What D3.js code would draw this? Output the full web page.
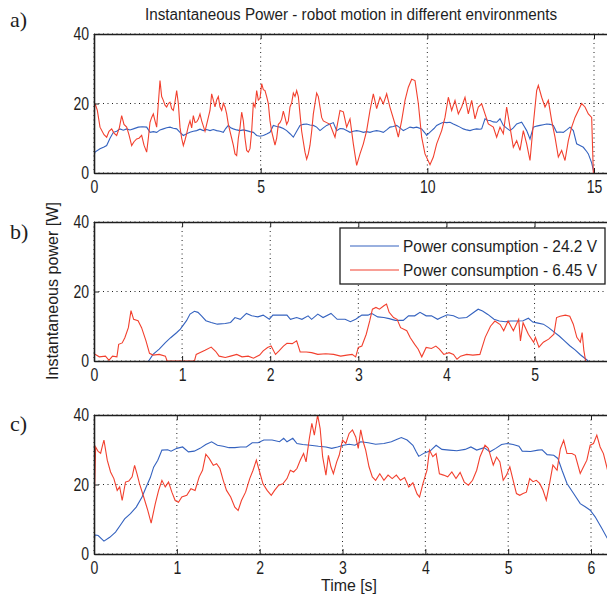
<!DOCTYPE html>
<html><head><meta charset="utf-8">
<script src="https://cdn.jsdelivr.net/npm/d3@7"></script>
<style>body{margin:0;background:#fff}svg{display:block}</style>
</head><body>
<svg id="chart" width="607" height="598"></svg>
<script>
// ---------- data ----------
const seriesNames = ["Power consumption - 24.2 V", "Power consumption - 6.45 V"];
const yTicks = [0, 20, 40];
const aTicks = [0, 5, 10, 15];
const bTicks = [0, 1, 2, 3, 4, 5];
const cTicks = [0, 1, 2, 3, 4, 5, 6];

const a24 = [[0,5],[0.03,6],[0.18,7],[0.3,7.5],[0.38,7.9],[0.48,10],[0.58,11.7],[0.68,12],[0.78,12.7],[0.88,12.3],[0.98,12.7],[1.08,12.4],[1.18,12.7],[1.33,13.2],[1.45,13.3],[1.58,13.2],[1.68,11.7],[1.78,11.9],[1.88,11.7],[1.98,12.4],[2.08,12.7],[2.18,13],[2.28,13.2],[2.38,12.9],[2.48,12.7],[2.58,11.7],[2.68,10.8],[2.78,11.3],[2.88,11.7],[2.98,12],[3.08,12.2],[3.18,12.6],[3.28,12.2],[3.38,12.5],[3.48,12.2],[3.58,12.5],[3.68,12.2],[3.78,12.0],[3.88,11.7],[3.95,12.8],[4.03,13.7],[4.1,13],[4.18,12.7],[4.28,12.4],[4.38,12.2],[4.48,12.4],[4.58,12.2],[4.68,11.9],[4.78,11.7],[4.88,10.8],[4.98,10.6],[5.08,10.8],[5.18,11.2],[5.28,11.7],[5.38,13.7],[5.48,13.4],[5.58,13.2],[5.68,12.8],[5.78,12.2],[5.88,11.3],[5.98,10.3],[6.08,12],[6.18,13.7],[6.28,14],[6.38,14.1],[6.48,13.8],[6.58,13.7],[6.68,13.2],[6.78,12.2],[6.88,13],[6.98,13.7],[7.08,14.1],[7.18,14.5],[7.28,12.2],[7.38,12.8],[7.48,12.7],[7.58,12.2],[7.68,11.7],[7.78,12],[7.88,12.2],[7.98,12],[8.08,11.7],[8.18,11.9],[8.28,11.7],[8.38,12],[8.48,12.2],[8.58,12],[8.68,11.7],[8.78,12.4],[8.88,13.2],[8.98,13.4],[9.08,13.7],[9.18,13],[9.28,12.2],[9.38,12.7],[9.48,13.2],[9.58,13],[9.68,13.2],[9.83,12.7],[9.93,11.5],[9.98,10.8],[10.05,11.5],[10.13,12.2],[10.2,12.8],[10.28,13.7],[10.38,14.2],[10.48,14.6],[10.58,14.5],[10.68,14.6],[10.78,14.1],[10.88,13.7],[10.98,13.2],[11.08,12.7],[11.18,12.4],[11.28,12.2],[11.38,12.5],[11.48,12.7],[11.58,12.6],[11.63,12.7],[11.73,15.6],[11.8,15.2],[11.88,15.1],[11.98,14.7],[12.08,14.6],[12.18,15.6],[12.28,13.7],[12.38,12.9],[12.48,12.2],[12.58,13],[12.68,14.1],[12.76,14.4],[12.83,14.6],[12.9,13.5],[12.98,12.2],[13.08,9.8],[13.18,13.2],[13.28,13.5],[13.38,13.7],[13.48,13.9],[13.58,14.1],[13.68,14],[13.78,13.7],[13.88,11.7],[13.98,11.8],[14.08,11.7],[14.18,12.4],[14.28,13.2],[14.38,12.2],[14.48,8.4],[14.58,7.9],[14.68,7.4],[14.78,6.2],[14.83,5.5],[14.93,2.9],[15.0,0]];

const a645 = [[0,13],[0.02,20],[0.05,19.5],[0.1,18],[0.18,13.2],[0.3,11],[0.38,10.3],[0.45,12],[0.53,12.7],[0.6,11.5],[0.68,10.8],[0.76,13],[0.83,16.5],[0.9,14],[0.98,13.2],[1.05,11],[1.13,7.9],[1.2,9],[1.28,9.8],[1.35,10],[1.43,10.8],[1.5,8],[1.58,6],[1.63,10],[1.68,14.6],[1.73,16],[1.78,17],[1.83,15],[1.88,13.2],[1.93,20],[1.98,26.6],[2.03,22],[2.08,20.9],[2.13,19.5],[2.18,19],[2.23,20],[2.28,20.4],[2.33,18.5],[2.38,18],[2.43,20.5],[2.48,23.7],[2.53,20],[2.58,13.2],[2.63,10],[2.68,7.9],[2.73,9.5],[2.78,11.3],[2.83,13.5],[2.88,15],[2.93,13],[2.98,16.5],[3.03,14.5],[3.08,14.7],[3.13,15.5],[3.18,17],[3.23,15],[3.33,12],[3.38,14],[3.43,16],[3.48,18],[3.53,22.8],[3.58,21],[3.63,19],[3.68,21],[3.73,22],[3.78,19],[3.83,18],[3.88,20],[3.93,19],[3.98,17],[4.03,14],[4.08,12],[4.13,10],[4.18,8],[4.23,5.5],[4.28,5],[4.33,10],[4.38,13],[4.43,17.5],[4.48,15],[4.53,10],[4.58,6.5],[4.63,6],[4.68,7],[4.73,12],[4.78,20],[4.83,19],[4.88,23.7],[4.93,21],[4.98,21.5],[5.03,25.7],[5.08,24],[5.13,23.7],[5.18,22],[5.23,20],[5.28,15],[5.33,12],[5.38,10],[5.43,8],[5.48,10],[5.53,14],[5.58,14.5],[5.63,15.5],[5.68,17.8],[5.73,16],[5.78,14],[5.83,15],[5.88,19],[5.93,20.2],[5.98,23],[6.03,22],[6.08,23.7],[6.13,22],[6.18,17],[6.23,12],[6.28,9],[6.33,6],[6.38,4],[6.43,5.5],[6.48,8],[6.53,12],[6.58,17],[6.63,20],[6.68,23],[6.73,22],[6.78,19],[6.83,16],[6.88,15],[6.98,14.5],[7.08,14],[7.23,10.3],[7.38,18],[7.48,17.6],[7.58,13.2],[7.68,15.6],[7.78,8.4],[7.88,2.2],[7.98,5.5],[8.08,8.4],[8.18,12.2],[8.28,18],[8.38,22.8],[8.48,18.5],[8.58,21.8],[8.68,19.9],[8.78,22.8],[8.88,18.9],[9.03,14.1],[9.13,10.3],[9.23,15.1],[9.33,20.9],[9.43,24.7],[9.53,27],[9.63,26.6],[9.73,20],[9.83,10.3],[9.93,5.5],[10.08,2.4],[10.18,4.6],[10.28,8.4],[10.43,12.2],[10.53,16],[10.63,21.8],[10.73,18],[10.83,20.9],[10.93,17],[11.03,19],[11.13,21.8],[11.23,17],[11.33,20.9],[11.43,15.6],[11.53,19],[11.63,19.9],[11.73,17],[11.83,14.1],[11.98,13.2],[12.08,10.3],[12.18,13.2],[12.28,11.3],[12.38,19],[12.48,13.2],[12.58,7.4],[12.68,9.3],[12.78,6.5],[12.88,12.2],[12.98,8.4],[13.08,3.6],[13.18,14.1],[13.28,23.7],[13.33,25.2],[13.43,21.8],[13.53,19],[13.63,20.9],[13.73,15.1],[13.83,10.3],[13.93,4.6],[14.03,6.5],[14.13,3.6],[14.23,9.3],[14.33,13.2],[14.43,16],[14.53,18],[14.63,20],[14.73,19],[14.83,17],[14.93,16],[14.98,0]];

const b24 = [[0.62,0],[0.67,1.9],[0.74,3.4],[0.81,5.3],[0.87,6.7],[0.94,8.2],[0.98,9.2],[1.05,11.6],[1.09,13.5],[1.14,14.3],[1.18,14],[1.22,13],[1.27,11.6],[1.33,11.1],[1.4,10.6],[1.49,10.8],[1.55,11.1],[1.6,12.5],[1.66,12],[1.73,13.7],[1.79,13],[1.86,12.7],[1.92,13.2],[1.99,12],[2.03,13.2],[2.1,13.2],[2.19,13.2],[2.23,12],[2.3,12.5],[2.36,12],[2.43,13],[2.47,12],[2.54,13.5],[2.6,12.5],[2.69,13.7],[2.76,12],[2.85,12],[2.91,11.3],[2.97,12],[3.04,13.2],[3.11,13.2],[3.15,13.7],[3.22,12.7],[3.29,12.5],[3.35,12.2],[3.42,11.7],[3.51,11.7],[3.57,13],[3.64,13],[3.7,14],[3.77,13],[3.83,13],[3.9,12],[3.94,12.5],[4.01,13.3],[4.08,13],[4.14,12.3],[4.23,12.5],[4.3,13.8],[4.36,14.9],[4.41,14.4],[4.47,13.4],[4.54,12],[4.6,11.5],[4.67,11.3],[4.73,11.5],[4.8,11.5],[4.87,11.6],[4.93,12.3],[4.98,11.2],[5.04,10.9],[5.1,10.6],[5.16,9.6],[5.22,8.4],[5.28,7.2],[5.34,5.8],[5.4,4.4],[5.46,3.2],[5.52,1.8],[5.57,0.8],[5.61,0]];

const b645 = [[0,2.1],[0.06,1.2],[0.13,1.4],[0.17,0.2],[0.21,1.4],[0.26,1.2],[0.28,4.8],[0.32,5.2],[0.35,6.7],[0.39,9.6],[0.42,14.5],[0.45,12],[0.5,11.6],[0.54,9.6],[0.59,5.8],[0.63,2.2],[0.67,1.7],[0.74,1.9],[0.81,1.4],[0.83,0],[1.14,0],[1.16,1.9],[1.2,2.4],[1.26,3.1],[1.33,4],[1.38,2.8],[1.42,1.4],[1.49,1],[1.55,1.4],[1.62,1.9],[1.68,1.2],[1.75,1.4],[1.81,0.8],[1.88,1.7],[1.92,2.9],[1.97,3.9],[2.01,4.3],[2.06,1.9],[2.1,2.9],[2.15,4.3],[2.19,5.1],[2.25,5],[2.3,5.8],[2.34,2.6],[2.41,2.6],[2.47,2.4],[2.54,1.9],[2.63,2.1],[2.72,1.9],[2.8,1.4],[2.87,1.7],[2.93,1.9],[2.97,1.2],[3.0,3.9],[3.04,4.3],[3.09,7.7],[3.13,11.6],[3.16,14.9],[3.2,15.4],[3.24,14.9],[3.29,15.9],[3.32,16.4],[3.35,14],[3.4,12.5],[3.44,12],[3.48,9.6],[3.55,8.7],[3.59,6.7],[3.64,4.8],[3.68,3.4],[3.72,1.2],[3.77,3.9],[3.83,3.6],[3.88,4.3],[3.92,3.4],[3.97,1.9],[4.03,2.4],[4.08,1.9],[4.12,0.5],[4.16,1.4],[4.23,1.9],[4.3,1.7],[4.38,1.9],[4.44,6.8],[4.5,10],[4.55,11.5],[4.61,10.5],[4.65,8.7],[4.7,11.5],[4.76,8.7],[4.82,12],[4.84,5.8],[4.87,11],[4.93,7.7],[4.99,5.4],[5.01,6.8],[5.05,4],[5.1,5.4],[5.16,6.3],[5.22,7.7],[5.25,12.5],[5.29,12.9],[5.35,13.2],[5.4,12.9],[5.44,10.6],[5.48,6.8],[5.52,5.4],[5.54,8.2],[5.56,3.0],[5.58,0]];

const c24 = [[0,2],[0.01,5.5],[0.05,5.3],[0.12,3.7],[0.19,4.8],[0.26,6.3],[0.33,8.7],[0.37,10.1],[0.44,11.6],[0.51,13.5],[0.58,16.4],[0.63,19.3],[0.68,22],[0.72,25],[0.77,27],[0.82,29.9],[0.89,30],[0.93,29.6],[1.0,30.4],[1.07,30.8],[1.14,29.4],[1.21,29.6],[1.28,30.4],[1.35,31.5],[1.42,32.3],[1.49,31.3],[1.56,31],[1.63,30.6],[1.7,30.6],[1.77,30.8],[1.84,30.8],[1.91,32],[1.98,32],[2.05,32.8],[2.15,32.8],[2.24,32.3],[2.29,33.3],[2.33,32.3],[2.4,33.3],[2.45,31.8],[2.52,31.5],[2.61,31.3],[2.71,31],[2.8,30.8],[2.87,30.4],[2.94,30.8],[3.01,31.3],[3.08,31.6],[3.15,31.3],[3.22,32.3],[3.31,32],[3.4,31.6],[3.5,31.8],[3.59,32.3],[3.66,33],[3.71,33.5],[3.78,32.8],[3.85,31.3],[3.89,29.4],[3.92,28.1],[3.99,29.1],[4.06,29.7],[4.13,31.3],[4.2,30.1],[4.29,29.9],[4.38,29.7],[4.48,30.1],[4.55,30.8],[4.62,29.9],[4.71,30.6],[4.78,29.4],[4.85,30.4],[4.92,31.5],[4.99,31.8],[5.06,31.5],[5.13,31],[5.17,29.6],[5.27,29.5],[5.36,29.9],[5.41,30],[5.47,28.6],[5.55,28.4],[5.6,27.5],[5.65,24.1],[5.71,20.3],[5.79,17.4],[5.87,14.5],[5.93,13.6],[5.99,12.6],[6.05,10.7],[6.13,7.4],[6.19,4.8],[6.25,2.5]];

const c645 = [[0,12.5],[0.02,30.8],[0.05,29.5],[0.08,29],[0.1,31],[0.12,32.8],[0.16,27],[0.2,23.6],[0.24,21.7],[0.28,18.3],[0.31,19.3],[0.34,15.4],[0.38,20.7],[0.42,21],[0.46,22.2],[0.49,25.5],[0.52,23],[0.55,20.2],[0.6,16.4],[0.65,12.5],[0.69,8.9],[0.74,14.5],[0.78,18.3],[0.82,21.2],[0.86,19.3],[0.9,20.7],[0.94,17.8],[0.98,15.4],[1.02,14.9],[1.06,16.4],[1.12,16.9],[1.17,18.8],[1.22,18.3],[1.27,22.2],[1.31,24.1],[1.35,28.7],[1.39,27.5],[1.44,25.5],[1.48,26],[1.52,24.6],[1.56,21.2],[1.6,18.3],[1.65,16.4],[1.7,13.5],[1.74,12.5],[1.78,15.4],[1.83,17.8],[1.88,21.7],[1.92,24.1],[1.96,27],[2.0,23.6],[2.04,20.2],[2.09,18.3],[2.14,16.9],[2.18,18.3],[2.23,19.8],[2.28,20.2],[2.33,21.7],[2.37,24.1],[2.41,23.6],[2.45,24.6],[2.49,27],[2.53,28.9],[2.56,26.5],[2.6,33.3],[2.63,37.6],[2.66,34.2],[2.7,40],[2.73,36.1],[2.76,28],[2.8,22.7],[2.83,28.4],[2.86,25.1],[2.89,23.1],[2.93,26.5],[2.96,28.4],[3.0,32.8],[3.04,31.8],[3.08,34.7],[3.12,35.7],[3.16,33.7],[3.19,30.4],[3.22,35.7],[3.25,32.3],[3.28,29.9],[3.32,25.1],[3.36,22.2],[3.4,21.2],[3.45,23.1],[3.5,21.2],[3.55,22.7],[3.6,21.7],[3.65,22.7],[3.7,21.2],[3.75,22],[3.8,19.3],[3.85,20.5],[3.9,17.3],[3.93,16.4],[3.97,20.2],[4.02,24.1],[4.05,29.9],[4.09,28],[4.13,28.9],[4.17,23.1],[4.22,22.7],[4.27,22.2],[4.32,23.6],[4.37,21.7],[4.42,23.5],[4.47,20.7],[4.52,19.8],[4.57,21.2],[4.62,24.1],[4.66,28],[4.72,31.3],[4.76,30.4],[4.82,25.6],[4.86,27.9],[4.9,26.5],[4.94,21.2],[4.98,22.7],[5.02,25.1],[5.06,21.2],[5.1,17.4],[5.14,16.9],[5.18,17.4],[5.22,17.8],[5.26,21.7],[5.3,20.8],[5.34,21.2],[5.38,20.3],[5.42,18.4],[5.46,15.5],[5.5,20.3],[5.54,25.6],[5.59,24.1],[5.63,30.3],[5.67,32.7],[5.71,28.9],[5.77,28.9],[5.81,28.4],[5.87,23.2],[5.91,25.1],[5.95,27],[5.99,31.3],[6.03,31.8],[6.07,34.2],[6.11,30.8],[6.15,28.9],[6.19,25.1],[6.22,22]];

// ---------- layout ----------
const LEFT = 94, RIGHT = 620;
const BLUE = "#3462bf", RED = "#f2402e", INK = "#1e1e1e";
const panels = [
  {tag:"a)", tagY:27, top:34, bottom:173, xmax:15.78, ticks:aTicks, s1:a24, s2:a645},
  {tag:"b)", tagY:239, top:222, bottom:361, xmax:5.97, ticks:bTicks, s1:b24, s2:b645, legend:true},
  {tag:"c)", tagY:431, top:415, bottom:554, xmax:6.35, ticks:cTicks, s1:c24, s2:c645}
];
const svg = d3.select("#chart");
const SANS = "'Liberation Sans', Arial, sans-serif";

function squeeze(sel, f) {
  sel.each(function(){
    const n = this.getComputedTextLength();
    if (n > 0) { this.setAttribute("textLength", n*f); this.setAttribute("lengthAdjust","spacingAndGlyphs"); }
  });
}

panels.forEach((p, i) => {
  const x = d3.scaleLinear().domain([0, p.xmax]).range([LEFT, RIGHT]);
  const y = d3.scaleLinear().domain([0, 40]).range([p.bottom, p.top]);
  const g = svg.append("g");
  const clipId = "clip" + i;
  g.append("clipPath").attr("id", clipId).append("rect")
    .attr("x", LEFT).attr("y", p.top).attr("width", RIGHT-LEFT).attr("height", p.bottom-p.top);

  // grid
  g.append("g").selectAll("line").data(p.ticks).join("line")
    .attr("x1", d=>x(d)).attr("x2", d=>x(d)).attr("y1", p.top).attr("y2", p.bottom)
    .attr("stroke", "#222").attr("stroke-width", 1).attr("stroke-dasharray", "1,3.5");
  g.append("g").selectAll("line").data(yTicks).join("line")
    .attr("x1", LEFT).attr("x2", RIGHT).attr("y1", d=>y(d)).attr("y2", d=>y(d))
    .attr("stroke", "#222").attr("stroke-width", 1).attr("stroke-dasharray", "1,3.5");

  // lines
  const line = d3.line().x(d=>x(d[0])).y(d=>y(d[1]));
  const lg = g.append("g").attr("clip-path", `url(#${clipId})`);
  lg.append("path").datum(p.s1).attr("d", line).attr("fill","none").attr("stroke",BLUE).attr("stroke-width",1.1);
  lg.append("path").datum(p.s2).attr("d", line).attr("fill","none").attr("stroke",RED).attr("stroke-width",1.1);

  // axes
  const xb = g.append("g").attr("transform", `translate(0,${p.bottom})`)
    .call(d3.axisBottom(x).tickValues(p.ticks).tickSizeInner(-5).tickSizeOuter(0).tickPadding(7).tickFormat(d3.format("d")));
  const xt = g.append("g").attr("transform", `translate(0,${p.top})`)
    .call(d3.axisTop(x).tickValues(p.ticks).tickSizeInner(-5).tickSizeOuter(0).tickFormat(""));
  const yl = g.append("g").attr("transform", `translate(${LEFT},0)`)
    .call(d3.axisLeft(y).tickValues(yTicks).tickSizeInner(-5).tickSizeOuter(0).tickPadding(5));
  [xb, xt, yl].forEach(a => {
    a.select(".domain").attr("stroke", INK).attr("stroke-width", 1.6);
    a.selectAll(".tick line").attr("stroke", INK).attr("stroke-width", 1);
    a.selectAll("text").attr("font-family", SANS).attr("font-size", 18).attr("fill", INK);
  });
  squeeze(xb.selectAll("text"), 0.78);
  squeeze(yl.selectAll("text"), 0.78);

  // panel tag
  svg.append("text").attr("x", 10).attr("y", p.tagY).text(p.tag)
    .attr("font-family", "'Liberation Serif','Times New Roman',serif").attr("font-size", 22).attr("fill", INK);

  if (p.legend) {
    const lgd = svg.append("g");
    lgd.append("rect").attr("x", 340).attr("y", 228).attr("width", 265).attr("height", 56)
      .attr("fill", "#fff").attr("stroke", INK).attr("stroke-width", 1.3);
    [BLUE, RED].forEach((c, k) => {
      const yy = 246 + k*24;
      lgd.append("line").attr("x1", 350).attr("x2", 399).attr("y1", yy).attr("y2", yy)
        .attr("stroke", c).attr("stroke-width", 1.2);
      lgd.append("text").attr("x", 403).attr("y", yy + 5.5).text(seriesNames[k])
        .attr("font-family", SANS).attr("font-size", 16).attr("fill", INK)
        .attr("textLength", 194).attr("lengthAdjust", "spacingAndGlyphs");
    });
  }
});

// titles
svg.append("text").attr("x", 351).attr("y", 20).attr("text-anchor","middle")
  .text("Instantaneous Power - robot motion in different environments")
  .attr("font-family", SANS).attr("font-size", 16).attr("fill", INK)
  .attr("textLength", 412).attr("lengthAdjust", "spacingAndGlyphs");
svg.append("text").attr("transform", "translate(58,291) rotate(-90)").attr("text-anchor","middle")
  .text("Instantaneous power [W]")
  .attr("font-family", SANS).attr("font-size", 16).attr("fill", INK)
  .attr("textLength", 178).attr("lengthAdjust", "spacingAndGlyphs");
svg.append("text").attr("x", 349).attr("y", 591).attr("text-anchor","middle")
  .text("Time [s]")
  .attr("font-family", SANS).attr("font-size", 16).attr("fill", INK)
  .attr("textLength", 56).attr("lengthAdjust", "spacingAndGlyphs");
</script>
</body></html>
